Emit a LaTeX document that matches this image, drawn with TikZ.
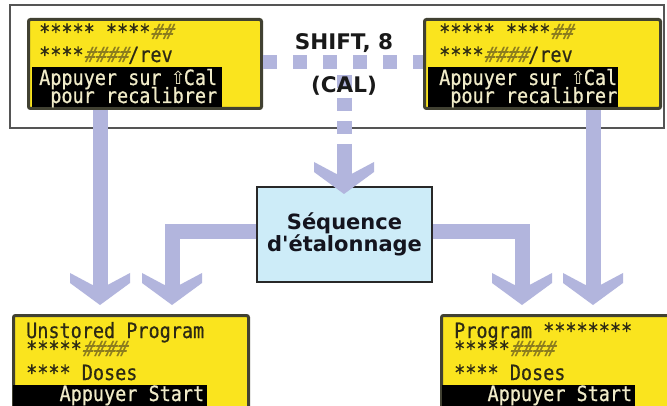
\documentclass[tikz,border=0pt]{standalone}
\usepackage{fontspec}
\usetikzlibrary{arrows.meta}
\newfontfamily\lcdfont{DejaVu Sans Mono}[FakeStretch=0.88,FakeBold=0.6]
\newfontfamily\lcdslant{DejaVu Sans Mono}[FakeStretch=0.88,FakeSlant=0.25,FakeBold=0.6]
\newfontfamily\arrowfont{DejaVu Sans}
\newfontfamily\headfont{DejaVu Sans}
\definecolor{lcdyellow}{RGB}{250,228,30}
\definecolor{lcdborder}{RGB}{65,65,50}
\definecolor{lcdtext}{RGB}{45,42,20}
\definecolor{lcdhash}{RGB}{140,125,30}
\definecolor{bandtext}{RGB}{240,235,200}
\definecolor{arrowcol}{RGB}{178,181,221}
\definecolor{seqfill}{RGB}{205,236,248}
\definecolor{framecol}{RGB}{85,85,85}
\newcommand\hs[1]{{\lcdslant\color{lcdhash}#1}}
\newcommand\upkey{\makebox[11.1pt]{\arrowfont\fontsize{18}{18}\selectfont ⇧}}
\pgfdeclarearrow{
  name = Chev,
  setup code = {
    \pgfarrowssettipend{0pt}
    \pgfarrowssetlineend{-18pt}
    \pgfarrowssetvisualbackend{-32pt}
    \pgfarrowssetbackend{-32pt}
    \pgfarrowshullpoint{0pt}{0pt}
    \pgfarrowsupperhullpoint{-32pt}{30pt}
  },
  drawing code = {
    \pgfpathmoveto{\pgfqpoint{0pt}{0pt}}
    \pgfpathlineto{\pgfqpoint{-22pt}{30pt}}
    \pgfpathlineto{\pgfqpoint{-32pt}{30pt}}
    \pgfpathlineto{\pgfqpoint{-20pt}{7.5pt}}
    \pgfpathlineto{\pgfqpoint{-20pt}{-7.5pt}}
    \pgfpathlineto{\pgfqpoint{-32pt}{-30pt}}
    \pgfpathlineto{\pgfqpoint{-22pt}{-30pt}}
    \pgfpathclose
    \pgfusepathqfill
  },
  defaults = {}
}
\tikzset{
  lcd/.style={draw=lcdborder, line width=3pt, fill=lcdyellow, rounded corners=2pt, inner sep=0pt},
  band/.style={fill=black, draw=none, inner sep=0pt, anchor=north west},
  lcdtxt/.style={anchor=base west, inner sep=0pt, text=lcdtext, font=\lcdfont\fontsize{21}{21}\selectfont},
  bandtxt/.style={lcdtxt, text=bandtext},
  keytxt/.style={anchor=base, inner sep=0pt, text={rgb,255:red,25;green,25;blue,25}, font=\headfont\bfseries\fontsize{21.5}{21.5}\selectfont},
  seqbox/.style={draw={rgb,255:red,40;green,40;blue,40}, line width=2pt, fill=seqfill, inner sep=0pt,
    minimum width=175pt, minimum height=95pt, align=center,
    text={rgb,255:red,20;green,20;blue,30}, font=\headfont\bfseries\fontsize{21}{21.5}\selectfont},
  bigarrow/.style={color=arrowcol, line width=15pt, -{Chev}, line join=miter},
  dotline/.style={draw=arrowcol, line width=14pt, dash pattern=on 14pt off 16pt},
  vdot/.style={draw=arrowcol, line width=15pt, dash pattern=on 13pt off 10pt},
  framebox/.style={draw=framecol, line width=1.5pt, inner sep=0pt}
}
\begin{document}
\begin{tikzpicture}[x=1pt,y=-1pt]
\useasboundingbox (0,0) rectangle (667,406);
\clip (0,0) rectangle (667,406);
\fill[white] (0,0) rectangle (667,406);
% frame
\node[framebox, minimum width=654pt, minimum height=123pt] (frame) at (337,66.5) {};
% LCDs
\node[lcd, minimum width=233pt, minimum height=89pt] (tl) at (145,64) {};
\node[lcd, minimum width=236pt, minimum height=89pt] (tr) at (542.5,64) {};
\node[lcd, minimum width=235pt, minimum height=100pt] (bl) at (131,365.5) {};
\node[lcd, minimum width=235pt, minimum height=100pt] (br) at (559,365.5) {};
% bands
\node[band, minimum width=190pt, minimum height=40pt] (tlband) at (32,67) {};
\node[band, minimum width=190pt, minimum height=40pt] (trband) at (428,67) {};
\node[band, minimum width=194pt, minimum height=26pt] (blband) at (13,385) {};
\node[band, minimum width=193pt, minimum height=26pt] (brband) at (442,385) {};
% Sequence box
\node[seqbox] (seq) at (344.5,234.5) {Séquence\\d\symbol{39}étalonnage};
% coordinates
\coordinate (yD) at (0,62);
\coordinate (vTop) at (344,75);
\coordinate (vBot) at (344,146);
\coordinate (xL) at (100,0);
\coordinate (xLb) at (172,0);
\coordinate (xRb) at (522,0);
\coordinate (xR) at (593,0);
\coordinate (yBr) at (0,232);
% dotted connectors
\draw[dotline] (tl.east |- yD) -- (tr.west |- yD);
\draw[vdot] (vTop) -- (vBot);
\draw[bigarrow, shorten >=-8pt] (vBot) -- (seq.north -| vBot);
% arrows
\draw[bigarrow, shorten >=9pt] (tl.south -| xL) -- (bl.north -| xL);
\draw[bigarrow, shorten >=9pt] (tr.south -| xR) -- (br.north -| xR);
\draw[bigarrow, shorten >=9pt] (seq.west |- yBr) -| (bl.north -| xLb);
\draw[bigarrow, shorten >=9pt] (seq.east |- yBr) -| (br.north -| xRb);
% key text
\node[keytxt] (shift) at (344,50) {SHIFT, 8};
\node[keytxt] (cal) at (344,93) {(CAL)};
% top-left LCD text
\node[lcdtxt] (tl1) at (39,39) {***** ****\hs{\#\#}};
\node[lcdtxt] (tl2) at (39,62) {****\hs{\#\#\#\#}/rev};
\node[bandtxt] (tl3) at (39,85) {Appuyer sur \upkey Cal};
\node[bandtxt] (tl4) at (39,103) {~pour recalibrer};
% top-right LCD text
\node[lcdtxt] (tr1) at (439,39) {***** ****\hs{\#\#}};
\node[lcdtxt] (tr2) at (439,62) {****\hs{\#\#\#\#}/rev};
\node[bandtxt] (tr3) at (439,85) {Appuyer sur \upkey Cal};
\node[bandtxt] (tr4) at (439,103) {~pour recalibrer};
% bottom-left LCD text
\node[lcdtxt] (bl1) at (26,338) {Unstored Program};
\node[lcdtxt] (bl2) at (26,356) {*****\hs{\#\#\#\#}};
\node[lcdtxt] (bl3) at (26,380) {**** Doses};
\node[bandtxt] (bl4) at (26,401) {~~~Appuyer Start};
% bottom-right LCD text
\node[lcdtxt] (br1) at (454,338) {Program ********};
\node[lcdtxt] (br2) at (454,356) {*****\hs{\#\#\#\#}};
\node[lcdtxt] (br3) at (454,380) {**** Doses};
\node[bandtxt] (br4) at (454,401) {~~~Appuyer Start};
\end{tikzpicture}
\end{document}
